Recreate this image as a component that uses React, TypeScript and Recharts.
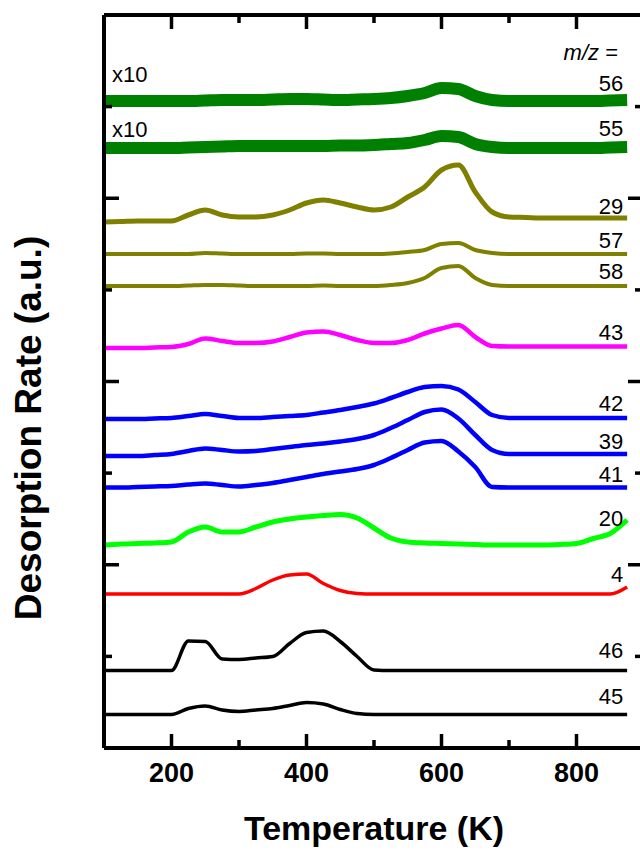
import React from "react"
import { ComposedChart, Line, XAxis, YAxis, LabelList, Label } from "recharts"

const FONT = "'Liberation Sans', Arial, sans-serif"

// temperature grid (K)
const temps = [100, 125, 150, 175, 200, 225, 250, 275, 300, 325, 350, 375, 400, 425, 450, 475, 500, 525, 550, 575, 600, 625, 650, 675, 700, 725, 750, 775, 800, 825, 850, 875]

// desorption traces (a.u., already stacked with their offsets)
const mz56 = [647, 647, 647, 647, 647, 647, 647.5, 648, 648, 648, 648.5, 649, 649, 648.5, 648, 648.5, 649, 650, 652, 655, 660, 659, 652, 648, 647, 647, 647, 647, 647, 647, 647.5, 648]
const mz55 = [600, 600, 600, 600, 600, 600.5, 601, 601.5, 602, 602, 602, 602, 602, 602, 602.5, 602.5, 603, 604, 605, 608, 612, 611, 604, 601, 600, 600, 600, 600, 600, 600, 600.5, 601]
const mz29 = [526, 526.5, 527, 527, 527, 533, 538, 533, 531, 531, 533, 538, 545, 548, 545, 541, 538, 541, 551, 561, 578, 583, 556, 536, 531, 530.5, 530, 530, 530, 530, 530, 530]
const mz57 = [494, 494, 494, 494, 494, 494, 495, 494.5, 494, 494, 494, 494, 494.5, 494.5, 494, 494, 494, 494.5, 496, 498, 504, 505, 498, 495, 494, 494, 494, 494, 494, 494, 494, 494]
const mz58 = [462, 462, 462, 462, 462, 462.5, 463, 463, 462.5, 462, 462, 462, 462, 462.5, 462, 462, 462, 463, 465, 470, 480, 482, 470, 463, 462, 462, 462, 462, 462, 462, 462, 462]
const mz43 = [400, 400, 400, 400.5, 401, 404, 409.5, 407, 405, 405, 406.5, 411, 415.5, 416.5, 413, 408, 405, 405, 408, 414.5, 419.5, 423, 411, 402, 401.5, 401.5, 401.5, 401.5, 401.5, 401.5, 401.5, 401.5]
const mz42 = [329, 329, 329, 329.5, 330, 332, 334, 332, 330, 330, 331, 332, 333, 335.5, 338, 341, 344.5, 350, 356, 361, 362, 358.5, 346, 333, 330, 330, 330, 330, 330, 330, 330, 330]
const mz39 = [292, 292, 292, 293, 294, 297, 299.5, 298, 296.5, 297, 299, 301, 303, 304.5, 306.5, 309, 313, 320, 328, 336, 338.5, 329.5, 313, 298, 294, 294, 294, 294, 294, 294, 294, 294]
const mz41 = [260.5, 260.5, 261, 261.5, 262, 263.5, 264.5, 263, 261.5, 263, 265, 268, 271, 274, 276.5, 279, 283, 290, 298, 305.5, 307, 296.5, 281, 261, 260.5, 260.5, 260.5, 260.5, 260.5, 260.5, 260.5, 260.5]
const mz20 = [203, 204, 204.5, 205, 206, 216, 221, 216, 216, 221, 226, 229, 231, 232.5, 233.5, 230, 220, 210, 206, 205, 204.5, 204, 203.5, 203, 203, 203, 203, 203.5, 204.5, 209.5, 214.5, 228]
const mz4 = [154, 154, 154, 154, 154, 154, 154, 154, 154, 159.5, 168, 173, 174, 164.5, 157.5, 154.5, 154, 154, 154, 154, 154, 154, 154, 154, 154, 154, 154, 154, 154, 154, 154, 161]
const mz46 = [77.5, 77.5, 77.5, 77.5, 77.5, 107, 106.5, 89, 88.5, 90, 91.5, 104.5, 115.5, 117, 106.5, 91.5, 78, 77.5, 77.5, 77.5, 77.5, 77.5, 77.5, 77.5, 77.5, 77.5, 77.5, 77.5, 77.5, 77.5, 77.5, 77.5]
const mz45 = [33.5, 33.5, 33.5, 33.5, 33.5, 39.5, 42, 38, 36.5, 38, 39.5, 42.5, 45.5, 44, 38.5, 34.5, 33.5, 33.5, 33.5, 33.5, 33.5, 33.5, 33.5, 33.5, 33.5, 33.5, 33.5, 33.5, 33.5, 33.5, 33.5, 33.5]

const xMajor = [200, 400, 600, 800]
const xTicks = [200, 300, 400, 500, 600, 700, 800]
const yMax = 733
const yTicks = [91.6, 183.25, 274.9, 366.5, 458.1, 549.75, 641.4]

const series = [
  { key: "m56", name: "56", values: mz56, color: "#008000", width: 12, dy: -17, x10: -27 },
  { key: "m55", name: "55", values: mz55, color: "#008000", width: 12, dy: -19, x10: -19 },
  { key: "m29", name: "29", values: mz29, color: "#808000", width: 5, dy: -12 },
  { key: "m57", name: "57", values: mz57, color: "#808000", width: 4, dy: -14 },
  { key: "m58", name: "58", values: mz58, color: "#808000", width: 4, dy: -15 },
  { key: "m43", name: "43", values: mz43, color: "#FF00FF", width: 4.5, dy: -14 },
  { key: "m42", name: "42", values: mz42, color: "#0000FF", width: 4.5, dy: -14.5 },
  { key: "m39", name: "39", values: mz39, color: "#0000FF", width: 4.5, dy: -12.5 },
  { key: "m41", name: "41", values: mz41, color: "#0000FF", width: 4.5, dy: -13.5 },
  { key: "m20", name: "20", values: mz20, color: "#00FF00", width: 5, dy: -1.5 },
  { key: "m4", name: "4", values: mz4, color: "#FF0000", width: 3.5, dy: -13 },
  { key: "m46", name: "46", values: mz46, color: "#000000", width: 3.5, dy: -20 },
  { key: "m45", name: "45", values: mz45, color: "#000000", width: 3.5, dy: -18 },
]

const data = temps.map((T, i) => {
  const row: Record<string, number> = { T }
  series.forEach((s) => {
    row[s.key] = s.values[i]
  })
  return row
})

const last = temps.length - 1

const BottomTick = ({ x, y, payload }: any) => {
  const major = xMajor.includes(payload.value)
  return (
    <g>
      <line x1={x} x2={x} y1={y} y2={y - (major ? 14 : 8)} stroke="#000" strokeWidth={3.5} />
      {major && (
        <text x={x} y={y + 34} textAnchor="middle" fontSize={27} fontWeight="bold" fontFamily={FONT} fill="#000">
          {payload.value}
        </text>
      )}
    </g>
  )
}

const TopTick = ({ x, y, payload }: any) => {
  const major = xMajor.includes(payload.value)
  return <line x1={x} x2={x} y1={y} y2={y + (major ? 14 : 8)} stroke="#000" strokeWidth={3.5} />
}

const isMajorY = (v: number) => Math.round(v / 91.625) % 2 === 0

const LeftTick = ({ x, y, payload }: any) => (
  <line x1={x} x2={x + (isMajorY(payload.value) ? 15 : 8)} y1={y} y2={y} stroke="#000" strokeWidth={3.5} />
)

const RightTick = ({ x, y, payload }: any) => (
  <line x1={x} x2={x - (isMajorY(payload.value) ? 16 : 9)} y1={y} y2={y} stroke="#000" strokeWidth={3.5} />
)

// number at the right end of every trace, "x10" at the start of the scaled ones
const endLabel = (s: any) => (props: any) => {
  if (props.index !== last && props.index !== 0) return null
  const px = props.x ?? props.viewBox?.x
  const py = props.y ?? props.viewBox?.y
  if (props.index === 0) {
    if (s.x10 === undefined) return null
    return (
      <text x={px + 8} y={py + s.x10} dominantBaseline="central" fontSize={22} fontFamily={FONT} fill="#000">
        x10
      </text>
    )
  }
  return (
    <text x={px - 4} y={py + s.dy} textAnchor="end" dominantBaseline="central" fontSize={22} fontFamily={FONT} fill="#000">
      {s.name}
    </text>
  )
}

const axisLine = { stroke: "#000", strokeWidth: 4 }

export default function App() {
  return (
    <div style={{ position: "fixed", left: 0, top: 0, width: 640, height: 852, overflow: "hidden", background: "#fff" }}>
      <ComposedChart width={660} height={852} data={data} margin={{ top: 0, right: 0, bottom: 0, left: 0 }}>
        <XAxis
          dataKey="T"
          type="number"
          domain={[100, 900]}
          allowDataOverflow
          ticks={xTicks}
          interval={0}
          height={104}
          tickSize={0}
          tickMargin={0}
          tickLine={false}
          axisLine={axisLine}
          tick={<BottomTick />}
        >
          <Label
            content={() => (
              <text x={374} y={840} textAnchor="middle" fontSize={34} fontWeight="bold" fontFamily={FONT} fill="#000">
                Temperature (K)
              </text>
            )}
          />
        </XAxis>
        <XAxis
          xAxisId="top"
          orientation="top"
          dataKey="T"
          type="number"
          domain={[100, 900]}
          allowDataOverflow
          ticks={xTicks}
          interval={0}
          height={15}
          tickSize={0}
          tickMargin={0}
          tickLine={false}
          axisLine={axisLine}
          tick={<TopTick />}
        />
        <YAxis
          type="number"
          domain={[0, yMax]}
          allowDataOverflow
          ticks={yTicks}
          interval={0}
          width={104}
          tickSize={0}
          tickMargin={0}
          tickLine={false}
          axisLine={axisLine}
          tick={<LeftTick />}
        >
          <Label
            content={() => (
              <text
                x={41}
                y={428}
                transform="rotate(-90 41 428)"
                textAnchor="middle"
                fontSize={37}
                fontWeight="bold"
                fontFamily={FONT}
                fill="#000"
              >
                Desorption Rate (a.u.)
              </text>
            )}
          />
        </YAxis>
        <YAxis
          yAxisId="right"
          orientation="right"
          type="number"
          domain={[0, yMax]}
          allowDataOverflow
          ticks={yTicks}
          interval={0}
          width={16}
          tickSize={0}
          tickMargin={0}
          tickLine={false}
          axisLine={axisLine}
          tick={<RightTick />}
        >
          <Label
            content={() => (
              <text x={618} y={52} textAnchor="end" dominantBaseline="central" fontSize={22} fontFamily={FONT} fill="#000">
                <tspan fontStyle="italic">m/z</tspan> =
              </text>
            )}
          />
        </YAxis>
        {series.map((s) => (
          <Line
            key={s.key}
            type="monotone"
            dataKey={s.key}
            stroke={s.color}
            strokeWidth={s.width}
            dot={false}
            activeDot={false}
            isAnimationActive={false}
          >
            <LabelList dataKey={s.key} content={endLabel(s)} />
          </Line>
        ))}
      </ComposedChart>
    </div>
  )
}
